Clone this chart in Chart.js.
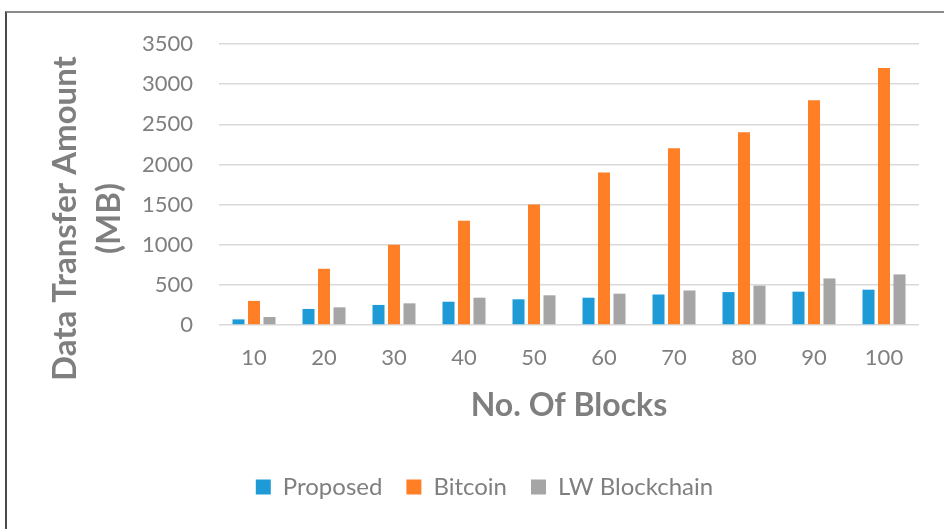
<!DOCTYPE html>
<html>
<head>
<meta charset="utf-8">
<script src="https://cdn.jsdelivr.net/npm/chart.js@4/dist/chart.umd.min.js"></script>
<style>
  html, body { margin: 0; padding: 0; background: #ffffff; }
  #wrap { position: relative; width: 944px; height: 529px; overflow: hidden; }
  #frame {
    position: absolute; left: 5px; top: 11px; right: -10px; bottom: -10px;
    border-top: 2px solid #8a8a8a; border-left: 2px solid #4a4a4a;
    pointer-events: none;
  }
</style>
</head>
<body>
<div id="wrap">
  <canvas id="chart" width="944" height="529"></canvas>
  <div id="frame"></div>
</div>
<script>
// Number of blocks on the x axis
const blocks = ['10', '20', '30', '40', '50', '60', '70', '80', '90', '100'];

// Data transfer amount (MB) per scheme
const proposed     = [70, 200, 250, 290, 320, 340, 380, 410, 415, 440];
const bitcoin      = [300, 700, 1000, 1300, 1500, 1900, 2200, 2400, 2800, 3200];
const lwBlockchain = [100, 220, 270, 340, 370, 390, 430, 490, 580, 630];

const seriesNames = ['Proposed', 'Bitcoin', 'LW Blockchain'];
const seriesColors = ['#1e9bd7', '#ff7f27', '#a5a5a5'];

const yTitleLines = ['Data Transfer Amount', '(MB)'];
const xTitle = 'No. Of Blocks';

const FONT = 'Lato, "Open Sans", sans-serif';
const TEXT_GREY = '#7f7f7f';

// Two-line rotated title beside the value axis
const valueAxisTitle = {
  id: 'valueAxisTitle',
  afterDraw(chart) {
    const ctx = chart.ctx;
    const area = chart.chartArea;
    ctx.save();
    ctx.font = 'bold 33px ' + FONT;
    ctx.fillStyle = TEXT_GREY;
    ctx.textAlign = 'center';
    ctx.textBaseline = 'middle';
    ctx.translate(65, (area.top + area.bottom) / 2 + 34);
    ctx.rotate(-Math.PI / 2);
    yTitleLines.forEach((line, i) => ctx.fillText(line, 0, i * 44));
    ctx.restore();
  }
};

const datasets = [proposed, bitcoin, lwBlockchain].map((values, i) => ({
  label: seriesNames[i],
  data: values,
  backgroundColor: seriesColors[i],
  borderWidth: 0,
  categoryPercentage: 0.664,
  barPercentage: 0.775
}));

new Chart(document.getElementById('chart'), {
  type: 'bar',
  data: { labels: blocks, datasets },
  plugins: [valueAxisTitle],
  options: {
    responsive: false,
    animation: false,
    layout: { padding: { left: 50, right: 25, top: 44, bottom: 20 } },
    plugins: {
      tooltip: { enabled: false },
      legend: {
        position: 'bottom',
        labels: {
          boxWidth: 15,
          boxHeight: 15,
          padding: 24,
          color: TEXT_GREY,
          font: { family: FONT, size: 24 }
        }
      }
    },
    scales: {
      x: {
        grid: { display: false, drawTicks: false },
        border: { display: false },
        ticks: { color: TEXT_GREY, padding: 20, font: { family: FONT, size: 22 } },
        title: {
          display: true,
          text: xTitle,
          color: TEXT_GREY,
          font: { family: FONT, size: 32, weight: 'bold' },
          padding: { top: 0, bottom: 26 }
        },
        afterFit(scale) { scale.height = 126; }
      },
      y: {
        min: 0,
        max: 3500,
        grid: { color: '#d9d9d9', lineWidth: 1.5, drawTicks: false },
        border: { display: false },
        ticks: {
          stepSize: 500,
          color: TEXT_GREY,
          padding: 26,
          font: { family: FONT, size: 22 },
          callback: (value) => String(value)
        },
        afterFit(scale) { scale.width = 169; }
      }
    }
  }
});
</script>
</body>
</html>
